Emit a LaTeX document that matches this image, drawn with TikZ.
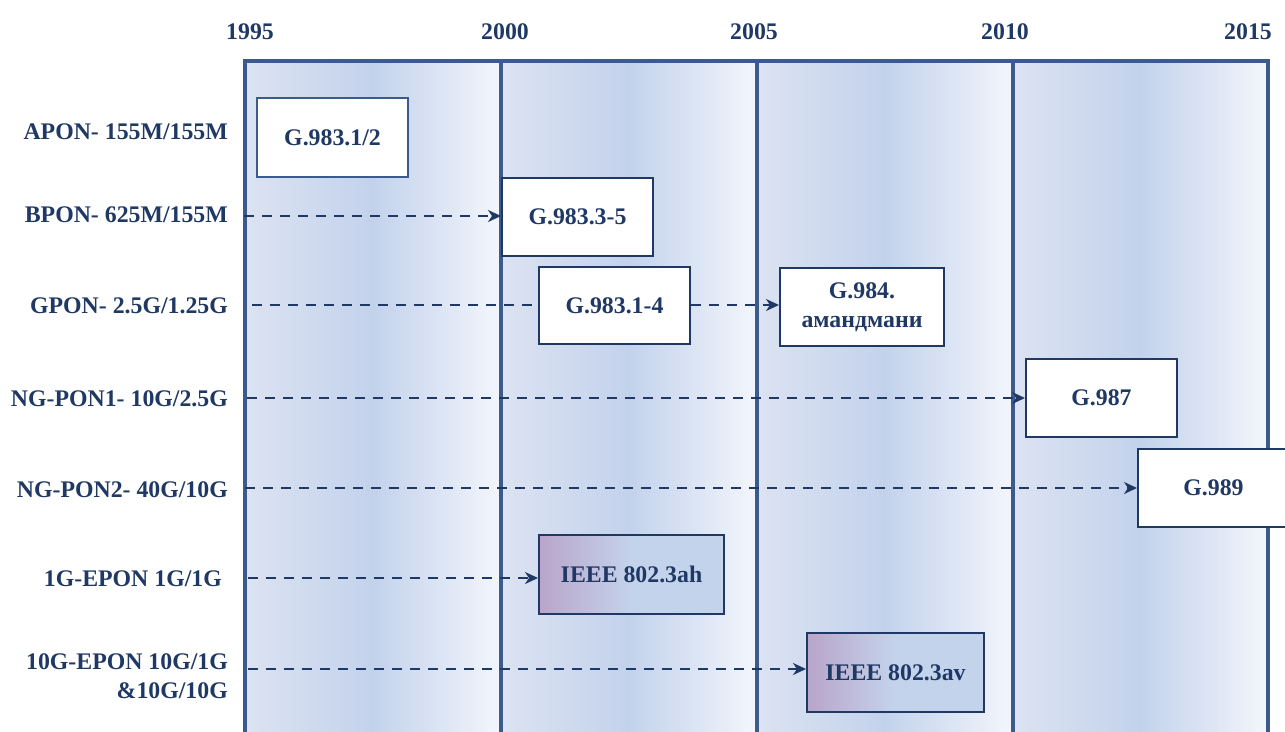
\documentclass[tikz,border=0pt]{standalone}
\usepackage{fontspec}
\setmainfont{Liberation Serif}[BoldFont={Liberation Serif Bold}]
\usetikzlibrary{arrows.meta}
\definecolor{navy}{HTML}{1F3864}
\definecolor{framecol}{HTML}{3B5B8C}
\definecolor{colL}{HTML}{DCE3F2}
\definecolor{colM}{HTML}{C3D2EC}
\definecolor{colR}{HTML}{F3F6FC}
\definecolor{ieeeL}{HTML}{B9A5C9}
\definecolor{ieeeR}{HTML}{C4D3EC}
\newcommand\dgfont{\bfseries\fontsize{23.8}{29}\selectfont}
\pgfdeclarelayer{background}
\pgfsetlayers{background,main}
\begin{document}
\begin{tikzpicture}[x=1pt,y=-1pt,
  yearlbl/.style={font=\dgfont, text=navy, inner sep=0pt, anchor=base},
  rowlbl/.style={font=\dgfont, text=navy, inner sep=0pt, anchor=base east, align=right},
  stdbox/.style={draw=navy, line width=2pt, fill=white, font=\dgfont, text=navy,
    inner sep=0pt, anchor=north west, align=center},
  ieeebox/.style={stdbox, fill=none, left color=ieeeL, right color=ieeeR, middle color=ieeeR},
  colshade/.style={left color=colL, right color=colR, middle color=colM},
  frameline/.style={draw=framecol, line width=4pt},
  conn/.style={draw=navy, line width=2.2pt, dash pattern=on 10pt off 8pt},
  arr/.style={conn, -{Stealth[length=13pt,width=12pt,inset=4pt]}}
]
\useasboundingbox (0,0) rectangle (1285,731);

% year labels
\node[yearlbl] (y1995) at (250,39) {1995};
\node[yearlbl] (y2000) at (505,39) {2000};
\node[yearlbl] (y2005) at (754,39) {2005};
\node[yearlbl] (y2010) at (1005,39) {2010};
\node[yearlbl] (y2015) at (1248,39) {2015};

% row labels
\node[rowlbl] (apon) at (228,139) {APON- 155M/155M};
\node[rowlbl] (bpon) at (228,222) {BPON- 625M/155M};
\node[rowlbl] (gpon) at (228,313) {GPON- 2.5G/1.25G};
\node[rowlbl] (ngpon1) at (228,406) {NG-PON1- 10G/2.5G};
\node[rowlbl] (ngpon2) at (228,497) {NG-PON2- 40G/10G};
\node[rowlbl] (epon1) at (222,586) {1G-EPON 1G/1G};
\node[rowlbl, anchor=east] (epon10) at (228,676) {10G-EPON 10G/1G\\\&10G/10G};

% boxes
\node[stdbox, draw=framecol, minimum width=151pt, minimum height=79pt] (g9831) at (256,97) {G.983.1/2};
\node[stdbox, minimum width=151pt, minimum height=78pt] (g9833) at (501,177) {G.983.3-5};
\node[stdbox, minimum width=151pt, minimum height=77pt] (g98314) at (538,266) {G.983.1-4};
\node[stdbox, minimum width=164pt, minimum height=78pt] (g984) at (779,267) {G.984.\\амандмани};
\node[stdbox, minimum width=151pt, minimum height=78pt] (g987) at (1025,358) {G.987};
\node[stdbox, minimum width=151pt, minimum height=78pt] (g989) at (1137,448) {G.989};
\node[ieeebox, minimum width=185pt, minimum height=79pt] (ieeeah) at (538,534) {IEEE 802.3ah};
\node[ieeebox, minimum width=177pt, minimum height=79pt] (ieeeav) at (806,632) {IEEE 802.3av};

% background columns and frame
\begin{pgfonlayer}{background}
  \shade[colshade] (245,61) rectangle (501,745);
  \shade[colshade] (501,61) rectangle (757,745);
  \shade[colshade] (757,61) rectangle (1013,745);
  \shade[colshade] (1013,61) rectangle (1268,745);
  \draw[frameline] (245,745) -- (245,61) -- (1268,61) -- (1268,745);
  \draw[frameline] (501,61) -- (501,745);
  \draw[frameline] (757,61) -- (757,745);
  \draw[frameline] (1013,61) -- (1013,745);
\end{pgfonlayer}

% connectors
\coordinate (sB) at (244,216);
\coordinate (sG) at (252,305);
\coordinate (sN1) at (247,398);
\coordinate (sN2) at (245,488);
\coordinate (sE1) at (248,578);
\coordinate (sE10) at (248,669);
\draw[arr] (sB) -- (sB -| g9833.west);
\draw[conn] (sG) -- (sG -| g98314.west);
\draw[arr] (sG -| g98314.east) -- (sG -| g984.west);
\draw[arr] (sN1) -- (sN1 -| g987.west);
\draw[arr] (sN2) -- (sN2 -| g989.west);
\draw[arr] (sE1) -- (sE1 -| ieeeah.west);
\draw[arr] (sE10) -- (sE10 -| ieeeav.west);
\end{tikzpicture}
\end{document}
